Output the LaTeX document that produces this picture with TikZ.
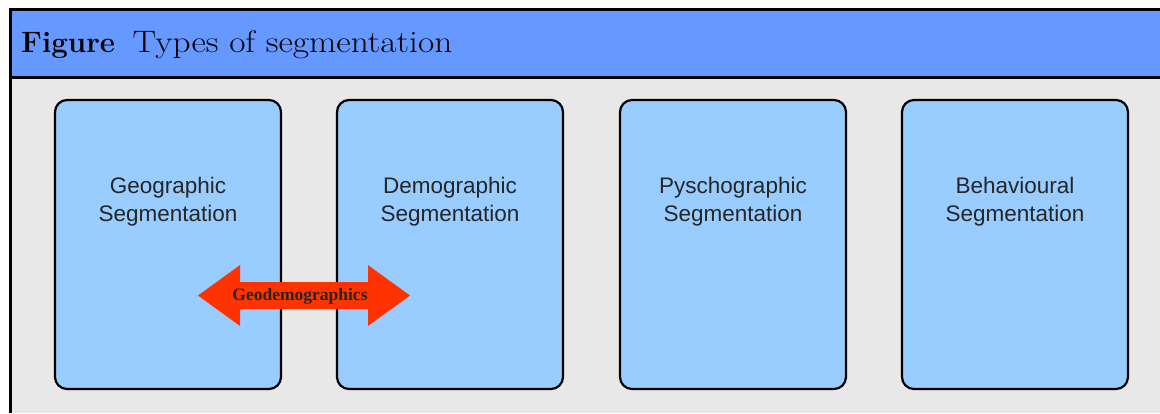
\documentclass[tikz,border=0pt]{standalone}
\usepackage{fontspec}
\usetikzlibrary{calc}
\newfontfamily\boxfont{Liberation Sans}
\newfontfamily\arrowfont{Liberation Serif}
\newfontfamily\titlewide{Latin Modern Roman}[FakeStretch=1.14]
\definecolor{hdrblue}{HTML}{6699FF}
\definecolor{boxblue}{HTML}{99CCFF}
\definecolor{bggray}{HTML}{E8E8E8}
\definecolor{arrred}{HTML}{FF3300}
\tikzset{
  segbox/.style={draw=black, line width=2.2pt, fill=boxblue, rounded corners=12pt,
    minimum width=226pt, minimum height=289pt, inner sep=0pt},
  segtext/.style={align=center, inner sep=0pt, font=\boxfont\fontsize{22.5}{28}\selectfont, text=black!85},
  arrtext/.style={inner sep=0pt, font=\arrowfont\bfseries\fontsize{17.5}{17.5}\selectfont, text=black!85},
}
\begin{document}
\begin{tikzpicture}[x=1pt,y=-1pt]
\useasboundingbox (0,0) rectangle (1160,413);
\fill[white] (0,0) rectangle (1160,413);
\fill[bggray] (12,79) rectangle (1160,413);
\fill[hdrblue] (12,11) rectangle (1160,76);
\draw[line width=3pt] (10.5,413) -- (10.5,9.5) -- (1160,9.5);
\draw[line width=3pt] (12,77.5) -- (1160,77.5);
\node[anchor=base west, inner sep=0pt] (title) at (21,52)
  {\fontsize{29.5}{30}\selectfont\textbf{Figure}\hspace{0.6em}{\titlewide\fontsize{31}{32}\selectfont Types of segmentation}};

\node[segbox] (b1) at (168,244.5) {};
\node[segbox] (b2) at (450,244.5) {};
\node[segbox] (b3) at (733,244.5) {};
\node[segbox] (b4) at (1015,244.5) {};

\node[segtext] (t1) at ($(b1.north)+(0,103)$) {Geographic\\Segmentation};
\node[segtext] (t2) at ($(b2.north)+(0,103)$) {Demographic\\Segmentation};
\node[segtext] (t3) at ($(b3.north)+(0,103)$) {Pyschographic\\Segmentation};
\node[segtext] (t4) at ($(b4.north)+(0,103)$) {Behavioural\\Segmentation};

\fill[arrred] (198,295.5) -- (240,265) -- (240,282) -- (368,282) -- (368,265) -- (410,295.5)
  -- (368,326) -- (368,309) -- (240,309) -- (240,326) -- cycle;
\node[arrtext] (geo) at (300,296) {Geodemographics};
\end{tikzpicture}
\end{document}
